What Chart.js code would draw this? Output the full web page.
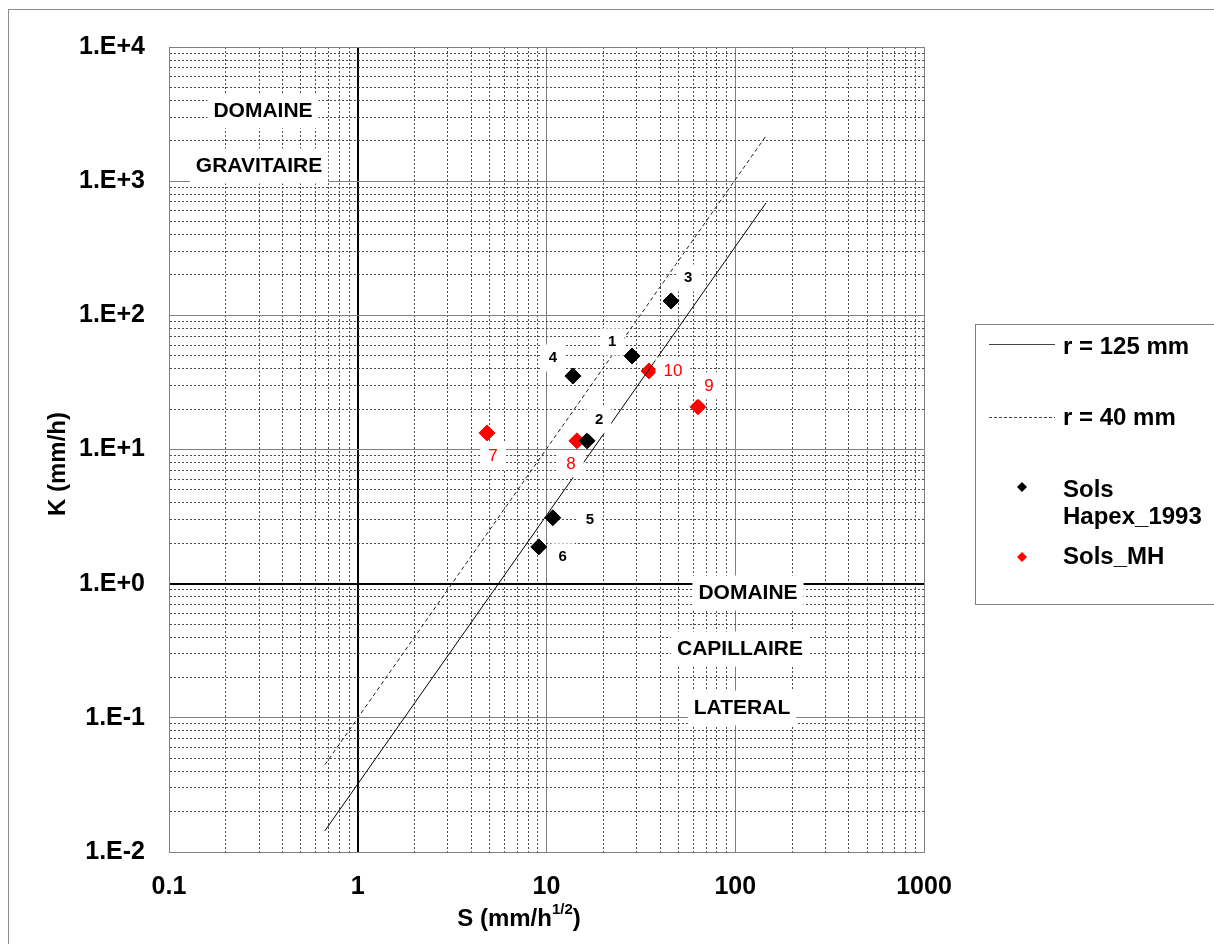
<!DOCTYPE html>
<html>
<head>
<meta charset="utf-8">
<script src="https://cdn.jsdelivr.net/npm/chart.js@4.4.0/dist/chart.umd.min.js"></script>
<style>
  html, body { margin: 0; padding: 0; background: #fff; }
</style>
</head>
<body>
<canvas id="chart" width="1214" height="944"></canvas>
<script>
// S (mm/h^1/2) -> K (mm/h)
var hapexS = [28.4, 16.4, 45.7, 13.8, 10.8, 9.1]
var hapexK = [49.8, 11.6, 128, 35.3, 3.1, 1.88]
var hapexNames = ['1', '2', '3', '4', '5', '6']

var mhS = [4.84, 14.5, 63.5, 34.9]
var mhK = [13.3, 11.6, 20.8, 38.5]
var mhNames = ['7', '8', '9', '10']

// end points of the two r lines
var lineS = [0.67, 145.5]
var r125K = [0.0144, 688]
var r40K = [0.0447, 2174]

var xDecades = [0.1, 1, 10, 100, 1000]
var xTickLabels = ['0.1', '1', '10', '100', '1000']
var yDecades = [0.01, 0.1, 1, 10, 100, 1000, 10000]
var yTickLabels = ['1.E-2', '1.E-1', '1.E+0', '1.E+1', '1.E+2', '1.E+3', '1.E+4']

// label offsets (px) from each point
var hapexOffsets = [[-20, -14], [12, -21], [17, -23], [-20, -18], [37, 2], [24, 10]]
var mhOffsets = [[6, 23], [-6, 23], [11, -21], [24, 0]]

var FONT = '"Liberation Sans", Arial, sans-serif'

function toPoints(xs, ys) {
    return xs.map(function(x, i) { return { x: x, y: ys[i] } })
}

function logTicks(decades) {
    var ticks = []
    decades.forEach(function(d, i) {
        if (i == decades.length - 1) {
            ticks.push({ value: d, major: true })
            return
        }
        for (var m = 1; m <= 9; m++) {
            ticks.push({ value: m * d, major: m == 1 })
        }
    })
    return ticks
}

function labelFor(value, decades, labels) {
    for (var i = 0; i < decades.length; i++) {
        if (Math.abs(Math.log10(value) - Math.log10(decades[i])) < 1e-6) return labels[i]
    }
    return ''
}

function isOne(v) { return Math.abs(v - 1) < 1e-9 }

function gridColor(c) {
    if (!c.tick) return '#808080'
    if (isOne(c.tick.value)) return '#000'
    return c.tick.major ? '#808080' : '#4a4a4a'
}
function gridWidth(c) {
    return c.tick && isOne(c.tick.value) ? 2 : 1
}
function gridDash(c) {
    if (!c.tick || c.tick.major) return []
    return [2, 2]
}

function fitBox(size, key) {
    return function(s) {
        s[key] = size
        s.paddingTop = s.paddingBottom = s.paddingLeft = s.paddingRight = 0
    }
}

function boxedText(ctx, text, x, y, font, color, padX, padY) {
    ctx.font = font
    var w = ctx.measureText(text).width
    var h = parseInt(font.match(/(\d+)px/)[1], 10)
    ctx.fillStyle = '#fff'
    ctx.fillRect(x - w / 2 - padX, y - h / 2 - padY, w + 2 * padX, h + 2 * padY)
    ctx.fillStyle = color
    ctx.textAlign = 'center'
    ctx.textBaseline = 'middle'
    ctx.fillText(text, x, y)
}

function diamond(ctx, x, y, r, color) {
    ctx.beginPath()
    ctx.moveTo(x, y - r)
    ctx.lineTo(x + r, y)
    ctx.lineTo(x, y + r)
    ctx.lineTo(x - r, y)
    ctx.closePath()
    ctx.fillStyle = color
    ctx.fill()
}

var decorations = {
    id: 'decorations',
    beforeDraw: function(chart) {
        var ctx = chart.ctx
        ctx.save()
        ctx.fillStyle = '#fff'
        ctx.fillRect(0, 0, chart.width, chart.height)
        ctx.strokeStyle = '#8c8c8c'
        ctx.lineWidth = 1
        ctx.strokeRect(8.5, 9.5, chart.width, chart.height)
        ctx.restore()
    },
    afterDatasetsDraw: function(chart) {
        var ctx = chart.ctx
        var xs = chart.scales.x, ys = chart.scales.y
        ctx.save()

        // domain annotations
        var af = 'bold 21px ' + FONT
        boxedText(ctx, 'DOMAINE', 263, 111, af, '#000', 6, 7)
        boxedText(ctx, 'GRAVITAIRE', 259, 166, af, '#000', 6, 7)
        boxedText(ctx, 'DOMAINE', 748, 593, af, '#000', 6, 7)
        boxedText(ctx, 'CAPILLAIRE', 740, 649, af, '#000', 6, 7)
        boxedText(ctx, 'LATERAL', 742, 708, af, '#000', 6, 7)

        // point numbers
        hapexS.forEach(function(s, i) {
            var px = xs.getPixelForValue(s) + hapexOffsets[i][0]
            var py = ys.getPixelForValue(hapexK[i]) + hapexOffsets[i][1]
            boxedText(ctx, hapexNames[i], px, py, 'bold 15px ' + FONT, '#000', 8, 6)
        })
        mhS.forEach(function(s, i) {
            var px = xs.getPixelForValue(s) + mhOffsets[i][0]
            var py = ys.getPixelForValue(mhK[i]) + mhOffsets[i][1]
            boxedText(ctx, mhNames[i], px, py, '17px ' + FONT, '#ff0000', 8, 5)
        })
        ctx.restore()
    },
    afterDraw: function(chart) {
        var ctx = chart.ctx
        ctx.save()

        // axis titles
        ctx.fillStyle = '#000'
        ctx.font = 'bold 24px ' + FONT
        ctx.textBaseline = 'alphabetic'
        ctx.textAlign = 'left'
        var main = 'S (mm/h'
        var sup = '1/2'
        var w1 = ctx.measureText(main).width
        ctx.font = 'bold 15px ' + FONT
        var w2 = ctx.measureText(sup).width
        ctx.font = 'bold 24px ' + FONT
        var w3 = ctx.measureText(')').width
        var x0 = 519 - (w1 + w2 + w3) / 2
        ctx.fillText(main, x0, 926)
        ctx.font = 'bold 15px ' + FONT
        ctx.fillText(sup, x0 + w1, 914)
        ctx.font = 'bold 24px ' + FONT
        ctx.fillText(')', x0 + w1 + w2, 926)

        ctx.translate(58, 464)
        ctx.rotate(-Math.PI / 2)
        ctx.textAlign = 'center'
        ctx.textBaseline = 'middle'
        ctx.fillText('K (mm/h)', 0, 0)
        ctx.setTransform(1, 0, 0, 1, 0, 0)

        // legend
        ctx.strokeStyle = '#808080'
        ctx.lineWidth = 1
        ctx.strokeRect(975.5, 324.5, 300, 280)

        ctx.strokeStyle = '#444'
        ctx.beginPath()
        ctx.moveTo(989, 344.5)
        ctx.lineTo(1055, 344.5)
        ctx.stroke()
        ctx.setLineDash([3, 2])
        ctx.beginPath()
        ctx.moveTo(989, 417.5)
        ctx.lineTo(1055, 417.5)
        ctx.stroke()
        ctx.setLineDash([])

        diamond(ctx, 1022, 487, 5, '#000')
        diamond(ctx, 1022, 557, 5, '#ff0000')

        ctx.fillStyle = '#000'
        ctx.font = 'bold 24px ' + FONT
        ctx.textAlign = 'left'
        ctx.textBaseline = 'middle'
        ctx.fillText('r = 125 mm', 1063, 347)
        ctx.fillText('r = 40 mm', 1063, 418)
        ctx.fillText('Sols', 1063, 490)
        ctx.fillText('Hapex_1993', 1063, 517)
        ctx.fillText('Sols_MH', 1063, 557)
        ctx.restore()
    }
}

var chart = new Chart(document.getElementById('chart'), {
    type: 'scatter',
    data: {
        datasets: [{
            label: 'r = 125 mm',
            data: toPoints(lineS, r125K),
            showLine: true,
            borderColor: '#000',
            borderWidth: 1,
            pointRadius: 0
        }, {
            label: 'r = 40 mm',
            data: toPoints(lineS, r40K),
            showLine: true,
            borderColor: '#222',
            borderWidth: 1,
            borderDash: [4, 3],
            pointRadius: 0
        }, {
            label: 'Sols Hapex_1993',
            data: toPoints(hapexS, hapexK),
            pointStyle: 'rectRot',
            pointRadius: 8,
            backgroundColor: '#000',
            borderColor: '#000',
            borderWidth: 1
        }, {
            label: 'Sols_MH',
            data: toPoints(mhS, mhK),
            pointStyle: 'rectRot',
            pointRadius: 8,
            backgroundColor: '#ff0000',
            borderColor: '#ff0000',
            borderWidth: 1
        }]
    },
    options: {
        responsive: false,
        animation: false,
        devicePixelRatio: 1,
        layout: { padding: { top: 47, right: 290, bottom: 0, left: 0 } },
        plugins: {
            legend: { display: false },
            tooltip: { enabled: false }
        },
        scales: {
            x: {
                type: 'logarithmic',
                min: 0.1,
                max: 1000,
                afterBuildTicks: function(s) { s.ticks = logTicks(xDecades) },
                afterFit: fitBox(92, 'height'),
                grid: { color: gridColor, lineWidth: gridWidth, borderDash: gridDash, drawTicks: false },
                border: { color: '#808080', dash: gridDash },
                ticks: {
                    autoSkip: false,
                    maxRotation: 0,
                    padding: 20,
                    color: '#000',
                    font: { family: FONT, size: 25, weight: 'bold' },
                    callback: function(v) { return labelFor(v, xDecades, xTickLabels) }
                }
            },
            y: {
                type: 'logarithmic',
                min: 0.01,
                max: 10000,
                afterBuildTicks: function(s) { s.ticks = logTicks(yDecades) },
                afterFit: fitBox(169, 'width'),
                grid: { color: gridColor, lineWidth: gridWidth, borderDash: gridDash, drawTicks: false },
                border: { color: '#808080', dash: gridDash },
                ticks: {
                    autoSkip: false,
                    padding: 24,
                    color: '#000',
                    font: { family: FONT, size: 25, weight: 'bold' },
                    callback: function(v) { return labelFor(v, yDecades, yTickLabels) }
                }
            }
        }
    },
    plugins: [decorations]
})
</script>
</body>
</html>
